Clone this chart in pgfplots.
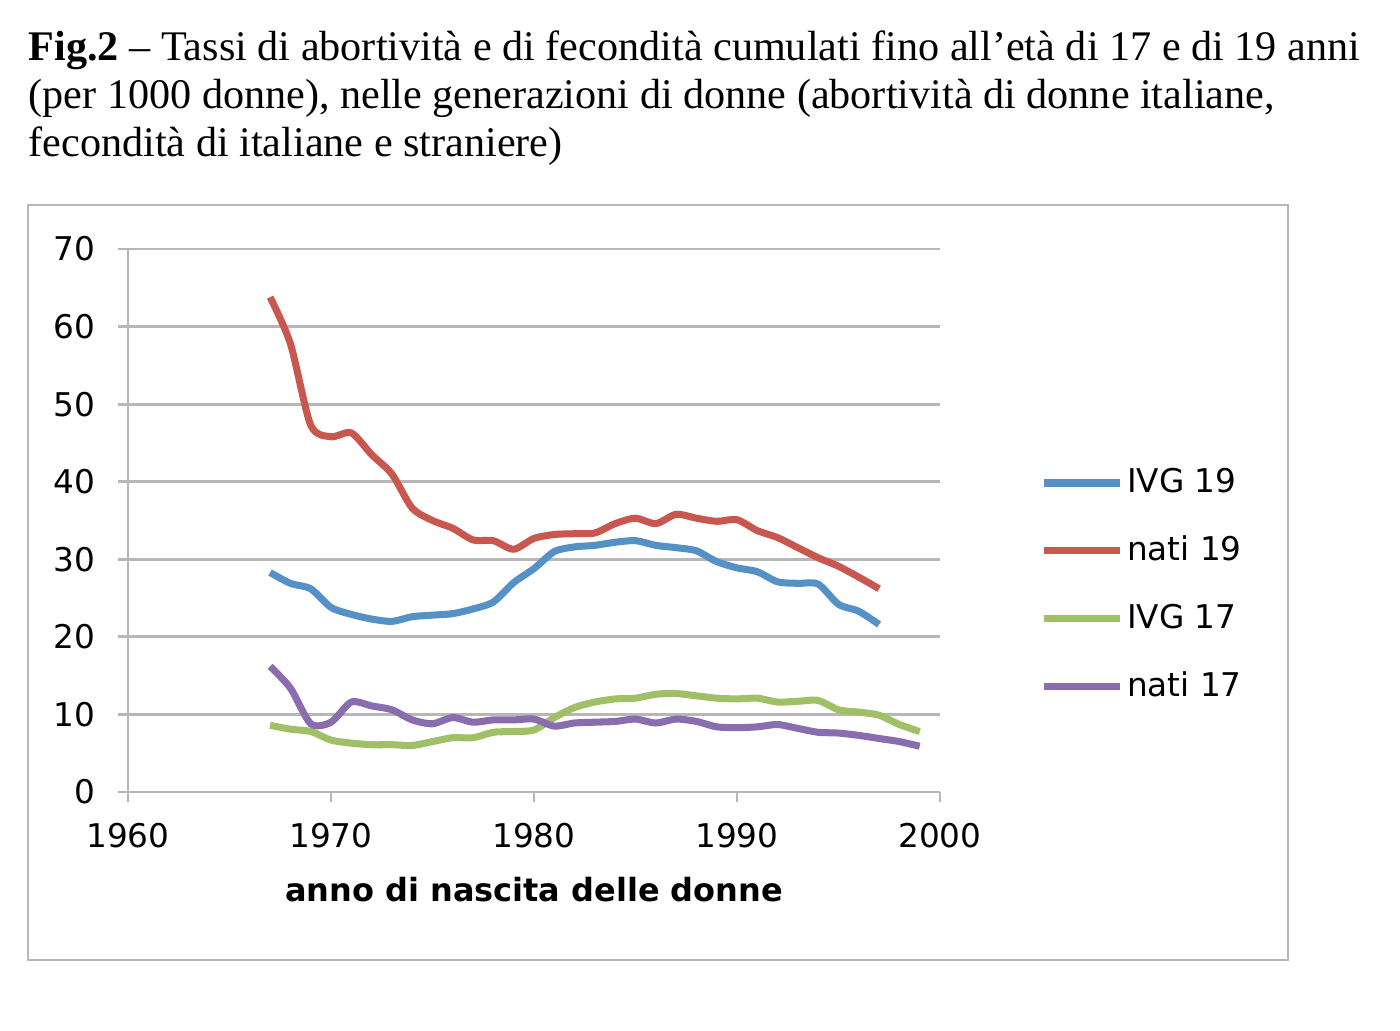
\documentclass[border=0pt]{standalone}
\usepackage{fontspec}
\setmainfont{Liberation Serif}
\newfontfamily\verd{DejaVu Sans}
\usepackage{pgfplots}
\pgfplotsset{compat=1.18}
\definecolor{cblue}{HTML}{5590C6}
\definecolor{cred}{HTML}{C8574F}
\definecolor{cgreen}{HTML}{A0C068}
\definecolor{cpurple}{HTML}{8A6DAE}
\definecolor{cgrid}{HTML}{B7B7B7}
\begin{document}
\begin{tikzpicture}
\path[use as bounding box] (0,0) rectangle (14,-10.3);
\begin{scope}[every node/.style={anchor=base west, inner sep=0pt, font=\fontsize{12.0}{14}\selectfont}]
\node at (0.28,-0.60) {\textbf{Fig.2} -- Tassi di abortività e di fecondità cumulati fino all’età di 17 e di 19 anni};
\node at (0.28,-1.08) {(per 1000 donne), nelle generazioni di donne (abortività di donne italiane,};
\node at (0.28,-1.56) {fecondità di italiane e straniere)};
\end{scope}
\draw[cgrid, line width=0.7pt] (0.28,-2.05) rectangle (12.88,-9.60);
\begin{axis}[
  at={(1.28cm,-7.92cm)}, anchor=south west,
  scale only axis, width=8.12cm, height=5.43cm,
  xmin=1960, xmax=2000, ymin=0, ymax=70,
  xtick={1960,1970,...,2000}, ytick={0,10,...,70},
  axis x line=bottom, axis y line=left,
  axis line style={-, cgrid, line width=0.8pt},
  ymajorgrids, grid style={cgrid, line width=0.8pt},
  tick style={cgrid, line width=0.8pt},
  tick align=outside, major tick length=0.1cm,
  /pgf/number format/1000 sep={},
  /pgf/number format/assume math mode=true,
  ticklabel style={font=\verd\fontsize{9.3}{11}\selectfont},
  yticklabel style={xshift=-0.1cm},
  xticklabel style={yshift=-0.09cm},
  xlabel={anno di nascita delle donne},
  xlabel style={font=\verd\bfseries\fontsize{9.1}{11}\selectfont, yshift=-0.05cm},
  legend cell align=left,
  legend style={draw=none, fill=none, at={(1.110,0.617)}, anchor=north west,
    font=\verd\fontsize{9.3}{11}\selectfont, row sep=0.31cm,
    nodes={inner sep=1pt}},
  legend image code/.code={\draw[#1] (0cm,0cm) -- (0.76cm,0cm);},
  every axis plot/.append style={line width=2.0pt, smooth, tension=0.45, no marks},
]
\addplot[cblue] coordinates {
(1967,28.3)(1968,26.9)(1969,26.2)(1970,23.8)(1971,22.9)(1972,22.3)(1973,22.0)
(1974,22.6)(1975,22.8)(1976,23.0)(1977,23.6)(1978,24.5)(1979,27.0)(1980,28.8)
(1981,31.0)(1982,31.6)(1983,31.8)(1984,32.2)(1985,32.4)(1986,31.8)(1987,31.5)
(1988,31.1)(1989,29.7)(1990,28.9)(1991,28.4)(1992,27.1)(1993,26.9)(1994,26.8)
(1995,24.2)(1996,23.3)(1997,21.6)};
\addlegendentry{IVG 19}
\addplot[cred] coordinates {
(1967,63.8)(1968,57.8)(1969,47.3)(1970,45.8)(1971,46.3)(1972,43.5)(1973,41.0)
(1974,36.6)(1975,35.0)(1976,34.0)(1977,32.5)(1978,32.4)(1979,31.3)(1980,32.7)
(1981,33.2)(1982,33.3)(1983,33.4)(1984,34.6)(1985,35.3)(1986,34.6)(1987,35.8)
(1988,35.3)(1989,34.9)(1990,35.1)(1991,33.7)(1992,32.8)(1993,31.5)(1994,30.2)
(1995,29.1)(1996,27.7)(1997,26.2)};
\addlegendentry{nati 19}
\addplot[cgreen] coordinates {
(1967,8.6)(1968,8.1)(1969,7.8)(1970,6.7)(1971,6.3)(1972,6.1)(1973,6.1)
(1974,6.0)(1975,6.5)(1976,7.0)(1977,7.0)(1978,7.7)(1979,7.8)(1980,8.0)
(1981,9.6)(1982,10.9)(1983,11.6)(1984,12.0)(1985,12.1)(1986,12.6)(1987,12.7)
(1988,12.4)(1989,12.1)(1990,12.0)(1991,12.1)(1992,11.6)(1993,11.7)(1994,11.8)
(1995,10.6)(1996,10.3)(1997,9.9)(1998,8.7)(1999,7.8)};
\addlegendentry{IVG 17}
\addplot[cpurple] coordinates {
(1967,16.2)(1968,13.4)(1969,8.8)(1970,9.0)(1971,11.6)(1972,11.1)(1973,10.6)
(1974,9.3)(1975,8.8)(1976,9.6)(1977,9.0)(1978,9.3)(1979,9.3)(1980,9.4)
(1981,8.5)(1982,8.9)(1983,9.0)(1984,9.1)(1985,9.4)(1986,8.9)(1987,9.4)
(1988,9.1)(1989,8.4)(1990,8.3)(1991,8.4)(1992,8.7)(1993,8.2)(1994,7.7)
(1995,7.6)(1996,7.3)(1997,6.9)(1998,6.5)(1999,5.9)};
\addlegendentry{nati 17}
\end{axis}
\end{tikzpicture}
\end{document}
